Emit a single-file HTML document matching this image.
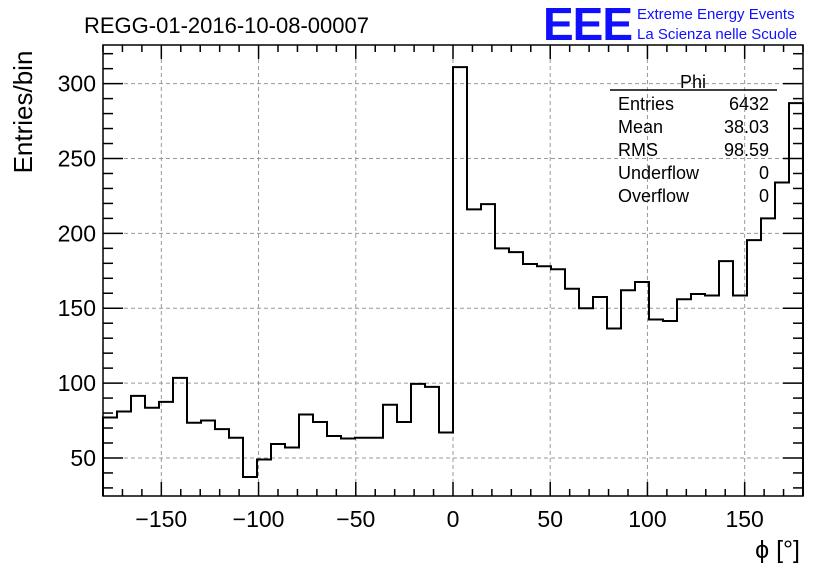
<!DOCTYPE html>
<html><head><meta charset="utf-8"><style>
body{margin:0;background:#fff;}
svg{display:block;font-family:"Liberation Sans",Arial,sans-serif;}
</style></head><body>
<svg id="c" width="836" height="572">
<text x="84" y="33" font-size="22">REGG-01-2016-10-08-00007</text>
<text x="543" y="40" font-size="46" fill="#1010ff" font-weight="bold" textLength="90">EEE</text>
<text x="637" y="19" font-size="15" fill="#1010ff">Extreme Energy Events</text>
<text x="637" y="39" font-size="15" fill="#1010ff">La Scienza nelle Scuole</text>
<text transform="translate(32,112) rotate(-90)" font-size="26" text-anchor="middle">Entries/bin</text>
<text x="800" y="558" font-size="25" text-anchor="end">ϕ [°]</text>
<g id="grid"></g><g id="hist"></g><g id="axes"></g>
<g font-size="18">
<text x="693" y="88" text-anchor="middle">Phi</text>
<line x1="610" y1="90" x2="777" y2="90" stroke="#000" stroke-width="1.5"/>
<text x="618" y="110">Entries</text><text x="769" y="110" text-anchor="end">6432</text>
<text x="618" y="133">Mean</text><text x="769" y="133" text-anchor="end">38.03</text>
<text x="618" y="156">RMS</text><text x="769" y="156" text-anchor="end">98.59</text>
<text x="618" y="179">Underflow</text><text x="769" y="179" text-anchor="end">0</text>
<text x="618" y="202">Overflow</text><text x="769" y="202" text-anchor="end">0</text>
</g>
</svg>
<script>
const binLow = -180, binWidth = 7.2;
const counts = [77,81,91.5,83.5,87.5,103.5,73.5,75,69.3,63.5,37.3,49,59.3,57,79,74,64.7,63,63.5,63.5,85.5,74,99.5,97.5,67,311,216,219.5,190,187.5,179.5,178,176,163,150,157.5,136.5,162,167.5,142.5,141.5,156,159.5,158.5,181.5,158.5,195.5,210,234,287];
const xTicks = [-150,-100,-50,0,50,100,150];
const yTicks = [50,100,150,200,250,300];
const L=103,R=803,T=45,B=496, XMIN=-180,XMAX=180, YMIN=24.6,YMAX=325.8;
const sx=v=>L+(v-XMIN)/(XMAX-XMIN)*(R-L);
const sy=v=>B-(v-YMIN)/(YMAX-YMIN)*(B-T);
const NS='http://www.w3.org/2000/svg';
function mk(t,a,p){const e=document.createElementNS(NS,t);for(const k in a)e.setAttribute(k,a[k]);p.appendChild(e);return e;}
const grid=document.getElementById('grid'),hist=document.getElementById('hist'),axes=document.getElementById('axes');
xTicks.forEach(v=>{const g=mk('line',{x1:sx(v),x2:sx(v),y1:T,y2:B,stroke:'#999','stroke-dasharray':'4,3'},grid);
});
yTicks.forEach(v=>{const g=mk('line',{x1:L,x2:R,y1:sy(v),y2:sy(v),stroke:'#999','stroke-dasharray':'4,3'},grid);
});
let d='M'+sx(binLow)+','+B;
counts.forEach((c,i)=>{const x0=sx(binLow+i*binWidth),x1=sx(binLow+(i+1)*binWidth);d+=' L'+x0+','+sy(c)+' L'+x1+','+sy(c);});
d+=' L'+sx(binLow+counts.length*binWidth)+','+B;
const p=mk('path',{d:d,fill:'none',stroke:'#000','stroke-width':2},hist);


const f=mk('rect',{x:L,y:T,width:R-L,height:B-T,fill:'none',stroke:'#000','stroke-width':1.5},axes);


for(let v=-180;v<=180;v+=10){const maj=v%50===0;const h=maj?14:7;
mk('line',{x1:sx(v),x2:sx(v),y1:B,y2:B-h,stroke:'#000','stroke-width':1.5},axes);
mk('line',{x1:sx(v),x2:sx(v),y1:T,y2:T+h,stroke:'#000','stroke-width':1.5},axes);}
for(let v=30;v<=320;v+=10){const maj=v%50===0;const h=maj?20:10;
mk('line',{x1:L,x2:L+h,y1:sy(v),y2:sy(v),stroke:'#000','stroke-width':1.5},axes);
mk('line',{x1:R,x2:R-h,y1:sy(v),y2:sy(v),stroke:'#000','stroke-width':1.5},axes);}
xTicks.forEach(v=>{const t=mk('text',{x:sx(v),y:527,'font-size':23,'text-anchor':'middle'},axes);t.textContent=(v<0?'\u2212'+(-v):v);
});
yTicks.forEach(v=>{const t=mk('text',{x:96,y:sy(v)+8,'font-size':23,'text-anchor':'end'},axes);t.textContent=v;
});
</script>
</body></html>
